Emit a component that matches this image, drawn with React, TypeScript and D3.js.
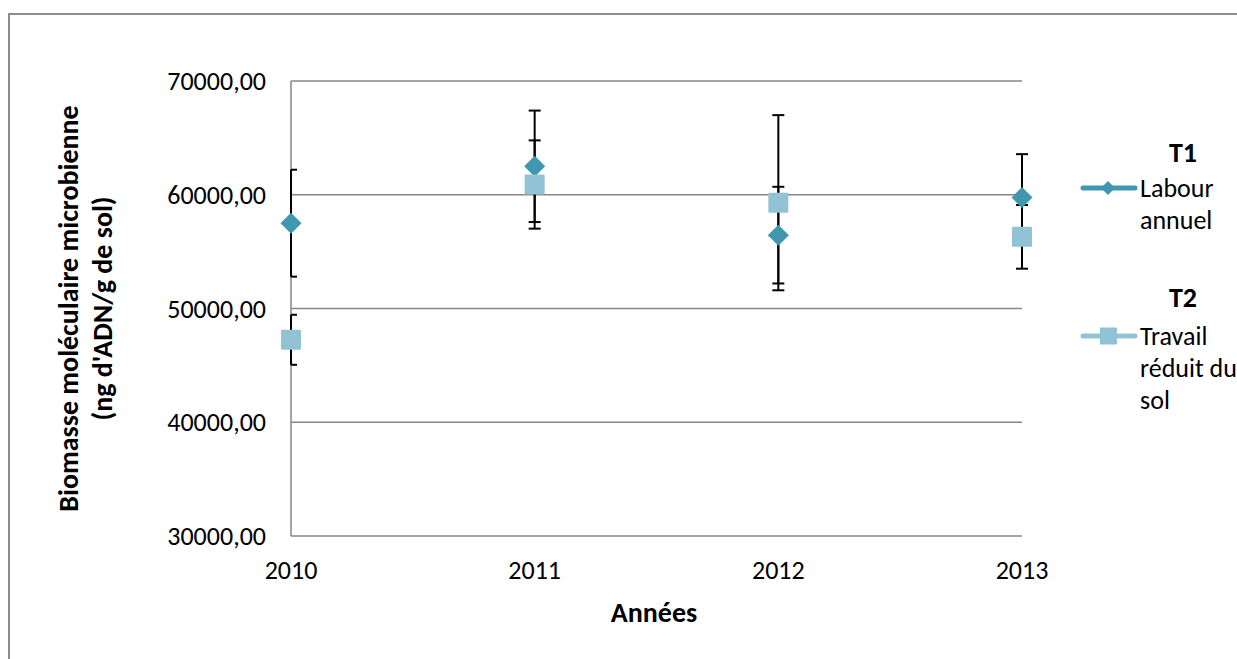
import React from "react";
import * as d3 from "d3";

const years = ["2010", "2011", "2012", "2013"];
const t1Values = [57500, 62500, 56450, 59750];
const t1Errors = [4700, 4900, 4250, 3820];
const t2Values = [47250, 60900, 59300, 56300];
const t2Errors = [2200, 3880, 7700, 2800];
const yTicks = [30000, 40000, 50000, 60000, 70000];

const FONT = "Carlito, Calibri, Lato, 'Liberation Sans', sans-serif";
const FS = 26;
const FSB = 28;
const C1 = "#4097B0";
const C2 = "#92C3D5";
const GRID = "#868686";

export default function App() {
  const W = 1237, H = 659;
  const x0 = 291, x1 = 1022, yTop = 81, yBot = 536;
  const x = d3.scalePoint<string>().domain(years).range([x0, x1]);
  const y = d3.scaleLinear().domain([30000, 70000]).range([yBot, yTop]);
  const fmt = (v: number) => d3.format(".2f")(v).replace(".", ",");

  const errBar = (cx: number, v: number, e: number, key: string) => {
    const top = y(v + e), bot = y(v - e);
    const cl = Math.max(cx - 6, x0);
    const cr = Math.min(cx + 6, x1 + 6);
    return (
      <g key={key} stroke="#000" strokeWidth={2}>
        <line x1={cx} x2={cx} y1={top} y2={bot} />
        <line x1={cl} x2={cr} y1={top} y2={top} />
        <line x1={cl} x2={cr} y1={bot} y2={bot} />
      </g>
    );
  };

  const diamond = (cx: number, cy: number, r: number) =>
    `M${cx},${cy - r}L${cx + r},${cy}L${cx},${cy + r}L${cx - r},${cy}Z`;

  return (
    <svg width={W} height={H} style={{ position: "absolute", left: 0, top: 0 }}>
      <rect x={0} y={0} width={W} height={H} fill="#fff" />
      <rect x={9} y={14} width={W + 20} height={H + 20} fill="none" stroke="#8c8c8c" strokeWidth={2} />
      {yTicks.map((t) => (
        <line key={t} x1={x0} x2={x1} y1={y(t)} y2={y(t)} stroke={GRID} strokeWidth={1.5} />
      ))}
      <line x1={x0} x2={x0} y1={yTop} y2={yBot} stroke={GRID} strokeWidth={1.5} />
      {yTicks.map((t) => (
        <text key={t} x={266} y={y(t)} dy="0.35em" textAnchor="end" fontFamily={FONT} fontSize={FS} fill="#000">
          {fmt(t)}
        </text>
      ))}
      {years.map((yr) => (
        <text key={yr} x={x(yr)} y={579} textAnchor="middle" fontFamily={FONT} fontSize={FS} fill="#000">
          {yr}
        </text>
      ))}
      {years.map((yr, i) => errBar(x(yr)!, t1Values[i], t1Errors[i], "e1" + yr))}
      {years.map((yr, i) => errBar(x(yr)!, t2Values[i], t2Errors[i], "e2" + yr))}
      {years.map((yr, i) => (
        <path key={"m1" + yr} d={diamond(x(yr)!, y(t1Values[i]), 10.5)} fill={C1} />
      ))}
      {years.map((yr, i) => (
        <rect key={"m2" + yr} x={x(yr)! - 10} y={y(t2Values[i]) - 10} width={20} height={20} fill={C2} rx={1} />
      ))}
      <text x={654} y={622} textAnchor="middle" fontFamily={FONT} fontSize={FSB} fontWeight="bold">Années</text>
      <g transform="translate(78,308.5) rotate(-90)">
        <text x={0} y={0} textAnchor="middle" fontFamily={FONT} fontSize={FSB} fontWeight="bold">Biomasse moléculaire microbienne</text>
        <text x={0} y={34} textAnchor="middle" fontFamily={FONT} fontSize={FSB} fontWeight="bold">(ng d'ADN/g de sol)</text>
      </g>
      <text x={1183} y={162} textAnchor="middle" fontFamily={FONT} fontSize={FSB} fontWeight="bold">T1</text>
      <line x1={1083} x2={1135} y1={188} y2={188} stroke={C1} strokeWidth={5} strokeLinecap="round" />
      <path d={diamond(1108, 188, 7)} fill={C1} />
      <text x={1140} y={197} fontFamily={FONT} fontSize={FS}>Labour</text>
      <text x={1140} y={229} fontFamily={FONT} fontSize={FS}>annuel</text>

      <text x={1183} y={307} textAnchor="middle" fontFamily={FONT} fontSize={FSB} fontWeight="bold">T2</text>
      <line x1={1083} x2={1135} y1={336} y2={336} stroke={C2} strokeWidth={5} strokeLinecap="round" />
      <rect x={1100} y={327.5} width={17} height={17} fill={C2} />
      <text x={1140} y={345} fontFamily={FONT} fontSize={FS}>Travail</text>
      <text x={1140} y={377} fontFamily={FONT} fontSize={FS}>réduit du</text>
      <text x={1140} y={409} fontFamily={FONT} fontSize={FS}>sol</text>
    </svg>
  );
}
